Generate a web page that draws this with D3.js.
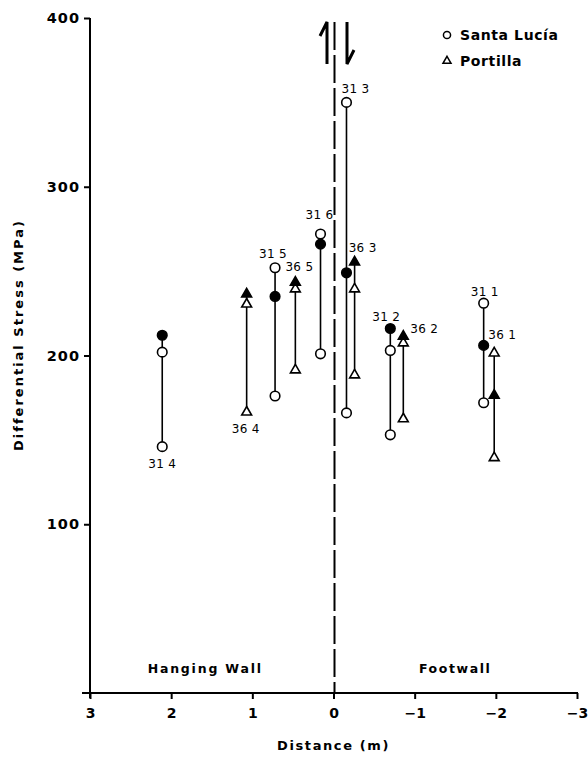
<!DOCTYPE html>
<html>
<head>
<meta charset="utf-8">
<script src="https://cdn.jsdelivr.net/npm/d3@7"></script>
<style>
  body { margin: 0; background: #fff; }
  svg { display: block; }
  .bold { font-family: "DejaVu Sans", sans-serif; font-weight: bold; }
  .lab { font-family: "DejaVu Sans", sans-serif; font-size: 12px; }
</style>
</head>
<body>
<script>
// stations
var stations = ["31 4", "36 4", "31 5", "36 5", "31 6", "31 3", "36 3", "31 2", "36 2", "31 1", "36 1"];
var sites    = ["SL", "P", "SL", "P", "SL", "SL", "P", "SL", "P", "SL", "P"];   // SL = Santa Lucía, P = Portilla
var distance = [2.11, 1.07, 0.72, 0.47, 0.16, -0.16, -0.26, -0.70, -0.86, -1.85, -1.98];
var openHigh = [202, 231, 252, 240, 272, 350, 240, 203, 208, 231, 202];
var openLow  = [146, 167, 176, 192, 201, 166, 189, 153, 163, 172, 140];
var filled   = [212, 237, 235, 244, 266, 249, 256, 216, 212, 206, 177];

var xTicks = [3, 2, 1, 0, -1, -2, -3];
var yTicks = [100, 200, 300, 400];

var width = 588, height = 757;

var svg = d3.select("body").append("svg")
    .attr("width", width)
    .attr("height", height);

var x = d3.scaleLinear().domain([3, -3]).range([90, 577]);
var y = d3.scaleLinear().domain([0, 400]).range([693, 18]);

// axes
var xAxis = svg.append("g")
    .attr("transform", "translate(0," + y(0) + ")")
    .call(d3.axisBottom(x).tickValues(xTicks).tickSize(6).tickSizeOuter(0)
        .tickFormat(function(d){ return d < 0 ? "\u2212" + (-d) : d; }));
xAxis.select(".domain").attr("d", "M82,0H578").attr("stroke-width", 2);
xAxis.selectAll(".tick line").attr("stroke-width", 2);
xAxis.selectAll(".tick text")
    .attr("class", "bold")
    .attr("font-size", 14)
    .attr("dy", "1.15em");

var yAxis = svg.append("g")
    .attr("transform", "translate(" + x(3) + ",0)")
    .call(d3.axisLeft(y).tickValues(yTicks).tickSize(6).tickSizeOuter(0));
yAxis.select(".domain").attr("d", "M0," + y(400) + "V" + (y(0) + 5)).attr("stroke-width", 2);
yAxis.selectAll(".tick line").attr("stroke-width", 2);
yAxis.selectAll(".tick text")
    .attr("class", "bold")
    .attr("font-size", 14.5)
    .attr("letter-spacing", 1)
    .attr("x", -10);

svg.append("text")
    .attr("class", "bold")
    .attr("font-size", 13)
    .attr("letter-spacing", 2)
    .attr("text-anchor", "middle")
    .attr("transform", "translate(23," + 335 + ") rotate(-90)")
    .text("Differential Stress (MPa)");

svg.append("text")
    .attr("class", "bold")
    .attr("font-size", 13)
    .attr("letter-spacing", 1.6)
    .attr("text-anchor", "middle")
    .attr("x", x(0))
    .attr("y", 750)
    .text("Distance (m)");

svg.append("text")
    .attr("class", "bold")
    .attr("font-size", 12.5)
    .attr("letter-spacing", 1.8)
    .attr("text-anchor", "middle")
    .attr("x", x(1.58))
    .attr("y", 673)
    .text("Hanging Wall");

svg.append("text")
    .attr("class", "bold")
    .attr("font-size", 12.5)
    .attr("letter-spacing", 1.6)
    .attr("text-anchor", "middle")
    .attr("x", x(-1.5))
    .attr("y", 673)
    .text("Footwall");

// fault trace and shear sense arrows
svg.append("line")
    .attr("x1", x(0) + 1).attr("x2", x(0) + 1)
    .attr("y1", 22).attr("y2", y(0))
    .attr("stroke", "#000")
    .attr("stroke-width", 2)
    .attr("stroke-dasharray", "28,5");

svg.append("path")
    .attr("d", "M327,64V22L320,36")
    .attr("fill", "none").attr("stroke", "#000").attr("stroke-width", 3);
svg.append("path")
    .attr("d", "M347,22V64L354,50")
    .attr("fill", "none").attr("stroke", "#000").attr("stroke-width", 3);

// data
var data = stations.map(function(s, i){
    return { id: s, site: sites[i], d: distance[i], hi: openHigh[i], lo: openLow[i], f: filled[i] };
});

var circle = d3.symbol().type(d3.symbolCircle).size(72);
var tri = d3.symbol().type(d3.symbolTriangle).size(42);

var g = svg.selectAll(".station")
    .data(data)
    .enter()
    .append("g")
    .attr("class", "station")
    .attr("transform", function(d){ return "translate(" + x(d.d) + ",0)"; });

g.append("line")
    .attr("y1", function(d){ return y(Math.max(d.hi, d.f)); })
    .attr("y2", function(d){ return y(d.lo); })
    .attr("stroke", "#000")
    .attr("stroke-width", 1.6);

function marker(sel, key, fill){
    sel.append("path")
        .attr("d", function(d){ return d.site == "SL" ? circle() : tri(); })
        .attr("transform", function(d){ return "translate(0," + (y(d[key]) + (d.site == "SL" ? 0 : 1)) + ")"; })
        .attr("fill", fill)
        .attr("stroke", "#000")
        .attr("stroke-width", 1.6);
}
marker(g, "lo", "#fff");
marker(g, "hi", "#fff");
marker(g, "f", "#000");

// station labels, offset from top (or bottom) of each bar
var labelOffsets = {
    "31 4": [0, 21, "lo", "middle"],
    "36 4": [-1, 22, "lo", "middle"],
    "31 5": [-2, -10, "top", "middle"],
    "36 5": [4, -10, "top", "middle"],
    "31 6": [-1, -15, "top", "middle"],
    "31 3": [-5, -9, "top", "start"],
    "36 3": [8, -9, "top", "middle"],
    "31 2": [-4, -8, "top", "middle"],
    "36 2": [7, -2, "top", "start"],
    "31 1": [1, -7, "top", "middle"],
    "36 1": [-6, -13, "top", "start"]
};

g.append("text")
    .attr("class", "lab")
    .attr("letter-spacing", 0.3)
    .attr("text-anchor", function(d){ return labelOffsets[d.id][3]; })
    .attr("x", function(d){ return labelOffsets[d.id][0]; })
    .attr("y", function(d){
        var o = labelOffsets[d.id];
        var base = o[2] == "lo" ? y(d.lo) : y(Math.max(d.hi, d.f));
        return base + o[1];
    })
    .text(function(d){ return d.id; });

// legend
var legend = svg.append("g").attr("transform", "translate(447,0)");
legend.append("path").attr("d", d3.symbol().type(d3.symbolCircle).size(40)())
    .attr("transform", "translate(0,35)")
    .attr("fill", "#fff").attr("stroke", "#000").attr("stroke-width", 1.5);
legend.append("path").attr("d", d3.symbol().type(d3.symbolTriangle).size(28)())
    .attr("transform", "translate(0,61)")
    .attr("fill", "#fff").attr("stroke", "#000").attr("stroke-width", 1.5);
legend.append("text").attr("class", "bold").attr("font-size", 14).attr("letter-spacing", 0.6)
    .attr("x", 13).attr("y", 40).text("Santa Lucía");
legend.append("text").attr("class", "bold").attr("font-size", 14).attr("letter-spacing", 0.6)
    .attr("x", 13).attr("y", 66).text("Portilla");
</script>
</body>
</html>
